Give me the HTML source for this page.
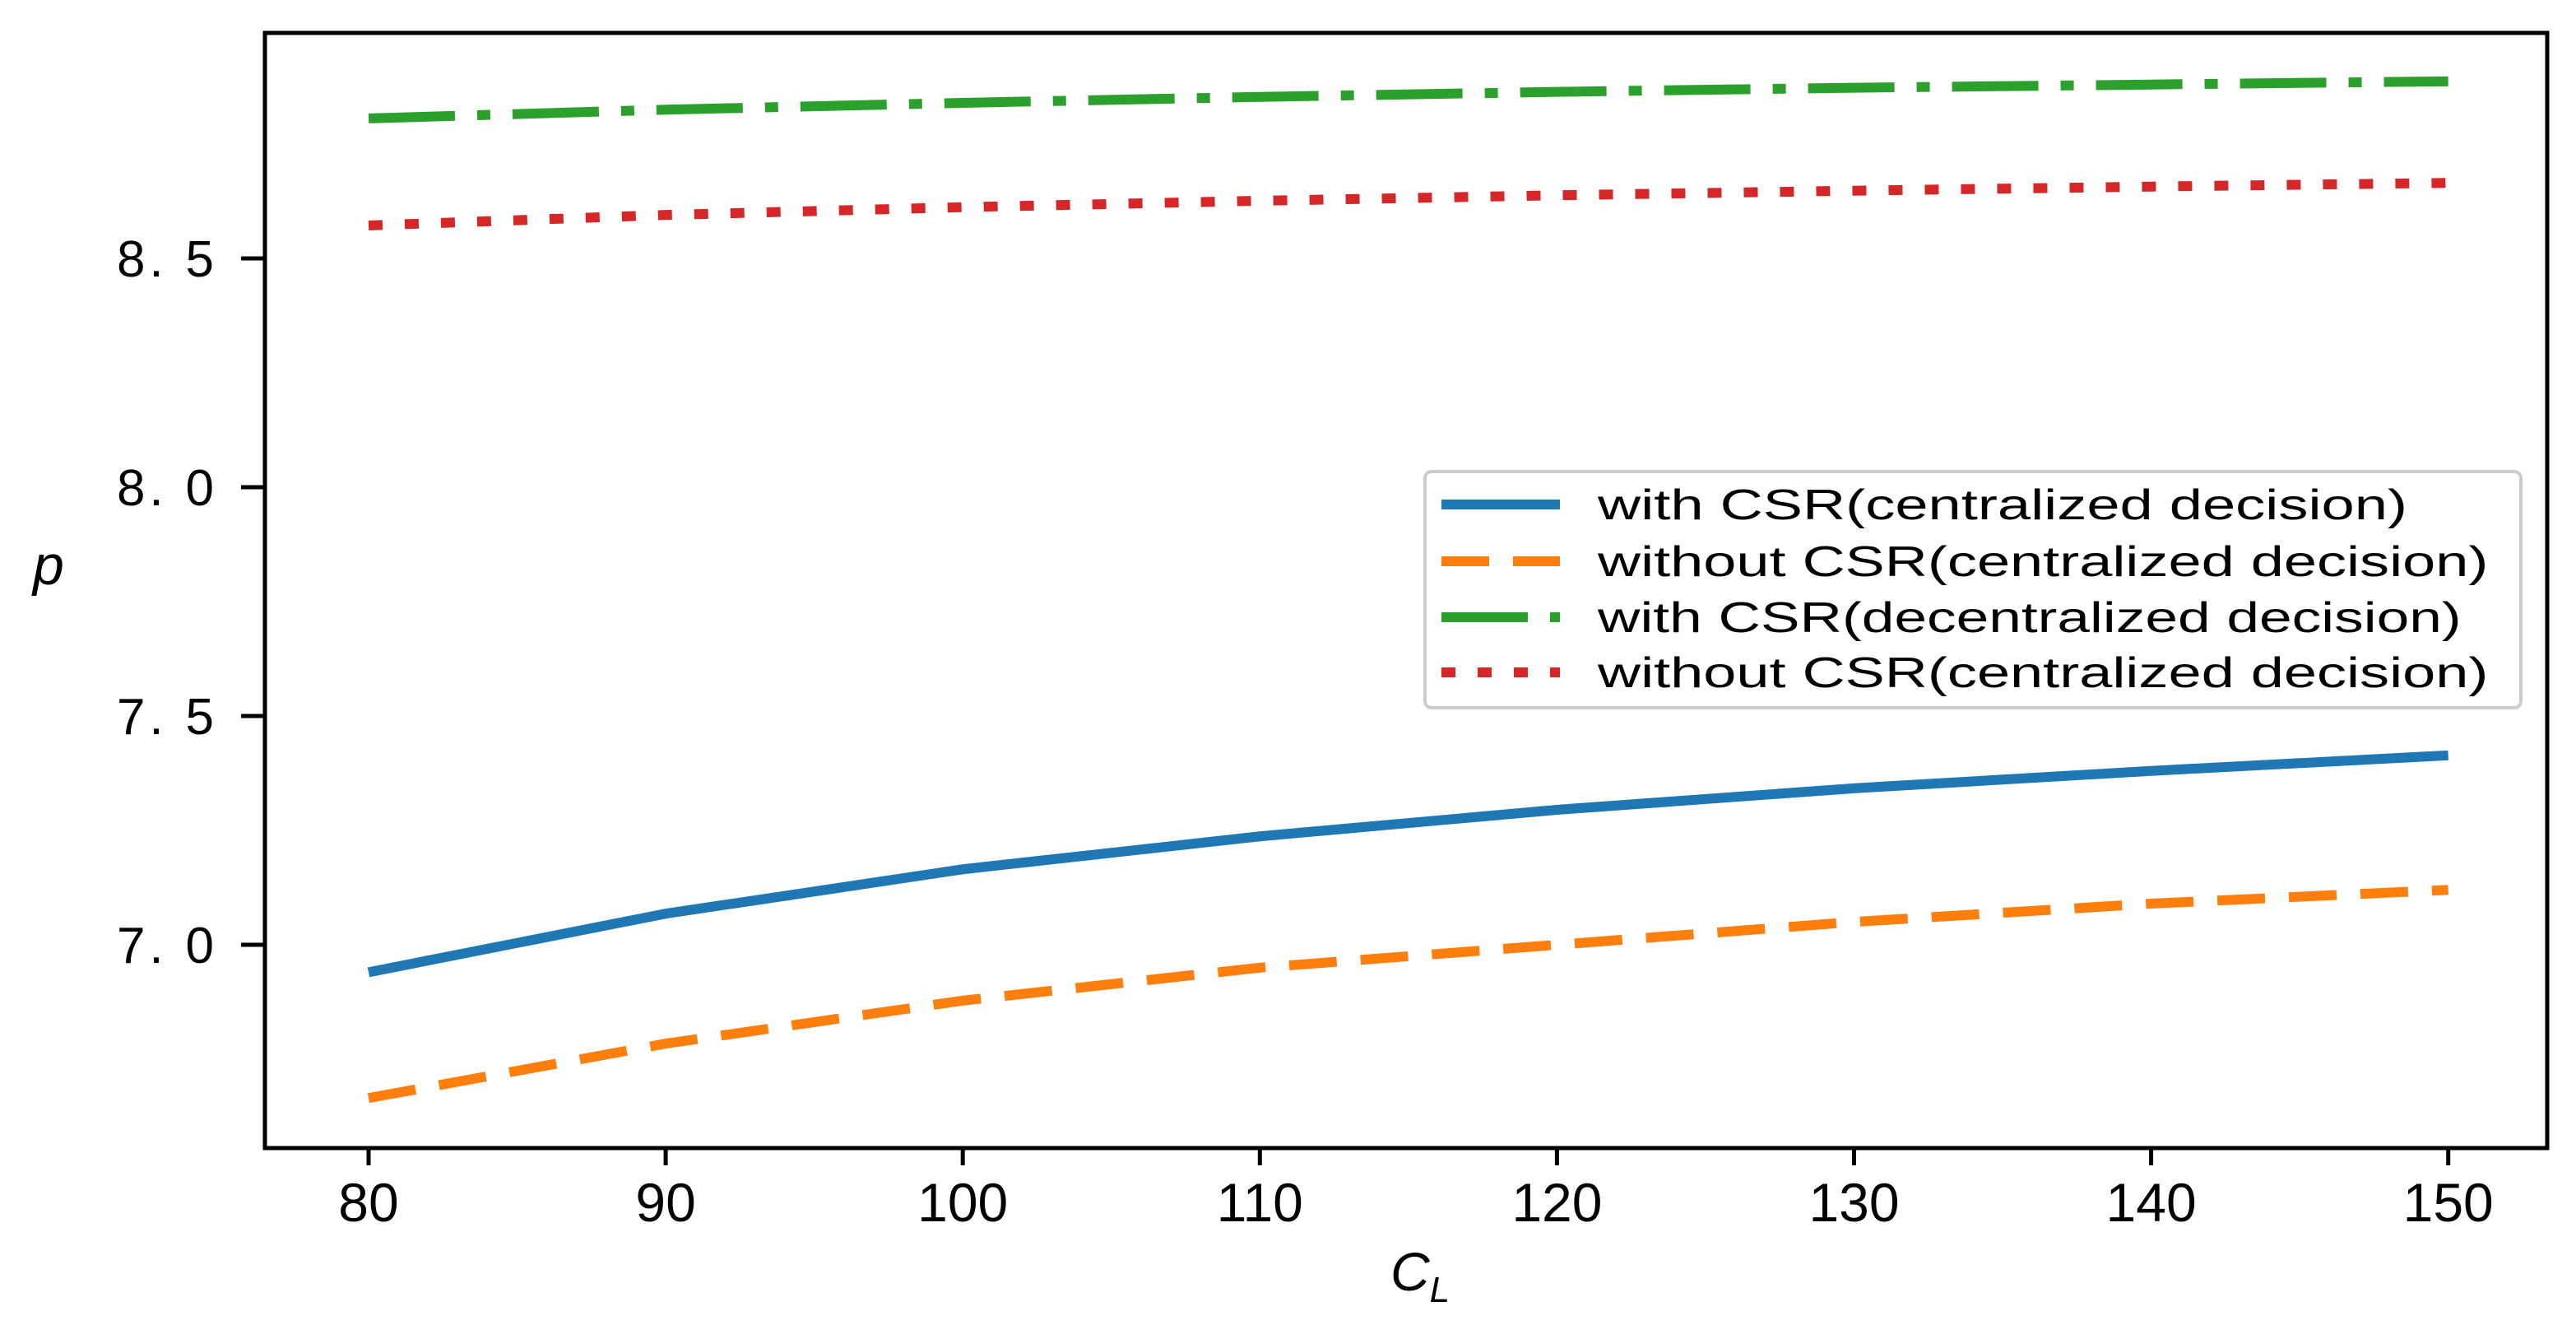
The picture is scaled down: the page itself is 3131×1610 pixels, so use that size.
<!DOCTYPE html>
<html><head><meta charset="utf-8"><style>
html,body{margin:0;padding:0;background:#fff;}
svg{display:block;}
</style></head><body>
<svg id="chart" width="3131" height="1610" viewBox="0 0 3131 1610" xmlns="http://www.w3.org/2000/svg">
<rect x="0" y="0" width="3131" height="1610" fill="#fff"/>
<g id="series"></g>
<rect x="322" y="40" width="2774" height="1355" fill="none" stroke="#000" stroke-width="5"/>
<g id="xticks"></g>
<g id="yticks"></g>
<text x="1690" y="1568" font-family="Liberation Sans, sans-serif" font-style="italic" font-size="66">C<tspan font-size="44" dy="14">L</tspan></text>
<text x="40" y="710" font-family="Liberation Sans, sans-serif" font-style="italic" font-size="68">p</text>
<g id="legend">
<rect x="1732" y="573" width="1332" height="287" rx="8" fill="#fff" stroke="#ccc" stroke-width="4"/>
</g>
</svg>
<script>
const xValues = [80, 90, 100, 110, 120, 130, 140, 150];
const withCsrCentral = [6.94, 7.068, 7.165, 7.237, 7.295, 7.342, 7.38, 7.414];
const withoutCsrCentral = [6.665, 6.784, 6.878, 6.95, 7.0, 7.05, 7.09, 7.12];
const withCsrDecentral = [8.806, 8.825, 8.84, 8.853, 8.864, 8.873, 8.88, 8.887];
const withoutCsrDecentral = [8.572, 8.595, 8.612, 8.626, 8.638, 8.648, 8.657, 8.665];
const xTicks = [80, 90, 100, 110, 120, 130, 140, 150];
const yTicks = [7.0, 7.5, 8.0, 8.5];
const yTickLabels = ["7. 0", "7. 5", "8. 0", "8. 5"];
const legendLabels = ["with CSR(centralized decision)", "without CSR(centralized decision)", "with CSR(decentralized decision)", "without CSR(centralized decision)"];

const NS = "http://www.w3.org/2000/svg";
function xs(v){ return 448 + (v - 80) * 36.11; }
function ys(v){ return 1148 - (v - 7) * 556; }
const styles = [
  {c:"#1f77b4", d:null, n:"with-csr-centralized-line"},
  {c:"#ff7f0e", d:"58 29", n:"without-csr-centralized-line"},
  {c:"#2ca02c", d:"105 27 16 27", n:"with-csr-decentralized-line"},
  {c:"#d62728", d:"17 27", n:"without-csr-decentralized-line"}
];
const seriesData = [withCsrCentral, withoutCsrCentral, withCsrDecentral, withoutCsrDecentral];
const sg = document.getElementById("series");
seriesData.forEach((arr, i) => {
  const p = document.createElementNS(NS, "polyline");
  p.setAttribute("points", arr.map((v, j) => xs(xValues[j]) + "," + ys(v)).join(" "));
  p.setAttribute("fill", "none");
  p.setAttribute("stroke", styles[i].c);
  p.setAttribute("stroke-width", "12");
  if (styles[i].d) p.setAttribute("stroke-dasharray", styles[i].d);
  
  
  sg.appendChild(p);
});
const xg = document.getElementById("xticks");
xTicks.forEach(t => {
  const l = document.createElementNS(NS, "line");
  l.setAttribute("x1", xs(t)); l.setAttribute("x2", xs(t));
  l.setAttribute("y1", 1395); l.setAttribute("y2", 1416);
  l.setAttribute("stroke", "#000"); l.setAttribute("stroke-width", "5");
  
  
  xg.appendChild(l);
  const tx = document.createElementNS(NS, "text");
  tx.setAttribute("x", xs(t)); tx.setAttribute("y", 1484);
  tx.setAttribute("text-anchor", "middle");
  tx.setAttribute("font-family", "Liberation Sans Narrow, Liberation Sans, sans-serif");
  tx.setAttribute("font-size", "66");
  tx.textContent = t;
  
  
  xg.appendChild(tx);
});
const yg = document.getElementById("yticks");
yTicks.forEach((t, i) => {
  const l = document.createElementNS(NS, "line");
  l.setAttribute("x1", 293); l.setAttribute("x2", 322);
  l.setAttribute("y1", ys(t)); l.setAttribute("y2", ys(t));
  l.setAttribute("stroke", "#000"); l.setAttribute("stroke-width", "5");
  
  
  yg.appendChild(l);
  const tx = document.createElementNS(NS, "text");
  tx.setAttribute("x", 142); tx.setAttribute("y", ys(t) + 22);
  tx.setAttribute("font-family", "Liberation Sans, sans-serif");
  tx.setAttribute("font-size", "62");
  tx.setAttribute("textLength", "118");
  tx.setAttribute("lengthAdjust", "spacing");
  tx.setAttribute("xml:space", "preserve");
  tx.textContent = yTickLabels[i];
  
  
  yg.appendChild(tx);
});
const lg = document.getElementById("legend");
const rowY = [613, 682, 750, 817];
legendLabels.forEach((lab, i) => {
  const l = document.createElementNS(NS, "line");
  l.setAttribute("x1", 1752); l.setAttribute("x2", 1896);
  l.setAttribute("y1", rowY[i]); l.setAttribute("y2", rowY[i]);
  l.setAttribute("stroke", styles[i].c); l.setAttribute("stroke-width", "12");
  if (styles[i].d) l.setAttribute("stroke-dasharray", styles[i].d);
  
  
  lg.appendChild(l);
  const tx = document.createElementNS(NS, "text");
  tx.setAttribute("x", 1942); tx.setAttribute("y", rowY[i] + 18);
  tx.setAttribute("font-family", "Liberation Sans Narrow, Liberation Sans, sans-serif");
  tx.setAttribute("font-size", "52");
  tx.setAttribute("textLength", lab.length * 32.8);
  tx.setAttribute("lengthAdjust", "spacingAndGlyphs");
  tx.textContent = lab;
  
  
  lg.appendChild(tx);
});
</script>
</body></html>
